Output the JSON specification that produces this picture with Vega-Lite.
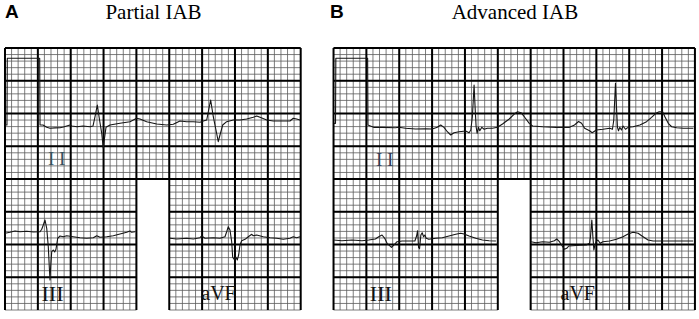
{
  "$schema": "https://vega.github.io/schema/vega-lite/v6.json",
  "width": 699,
  "height": 319,
  "padding": 0,
  "autosize": {"type": "fit", "contains": "padding"},
  "background": "white",
  "config": {"view": {"stroke": null}},
  "datasets": {
    "paperColumns": [
      {"x": 0}, {"x": 1}, {"x": 2}, {"x": 3}, {"x": 4}, {"x": 5}, {"x": 6}, {"x": 7}, {"x": 8}, {"x": 9},
      {"x": 10}, {"x": 11}, {"x": 12}, {"x": 13}, {"x": 14}, {"x": 15}, {"x": 16}, {"x": 17}, {"x": 18}, {"x": 19},
      {"x": 20}, {"x": 21}, {"x": 22}, {"x": 23}, {"x": 24}, {"x": 25}, {"x": 26}, {"x": 27}, {"x": 28}, {"x": 29},
      {"x": 30}, {"x": 31}, {"x": 32}, {"x": 33}, {"x": 34}, {"x": 35}, {"x": 36}, {"x": 37}, {"x": 38}, {"x": 39},
      {"x": 40}, {"x": 41}, {"x": 42}, {"x": 43}, {"x": 44}, {"x": 45},
      {"x": 50}, {"x": 51}, {"x": 52}, {"x": 53}, {"x": 54}, {"x": 55}, {"x": 56}, {"x": 57}, {"x": 58}, {"x": 59},
      {"x": 60}, {"x": 61}, {"x": 62}, {"x": 63}, {"x": 64}, {"x": 65}, {"x": 66}, {"x": 67}, {"x": 68}, {"x": 69},
      {"x": 70}, {"x": 71}, {"x": 72}, {"x": 73}, {"x": 74}, {"x": 75}, {"x": 76}, {"x": 77}, {"x": 78}, {"x": 79},
      {"x": 80}, {"x": 81}, {"x": 82}, {"x": 83}, {"x": 84}, {"x": 85}, {"x": 86}, {"x": 87}, {"x": 88}, {"x": 89},
      {"x": 90}, {"x": 91}, {"x": 92}, {"x": 93}, {"x": 94}, {"x": 95}, {"x": 96}, {"x": 97}, {"x": 98}, {"x": 99},
      {"x": 100}, {"x": 101}, {"x": 102}, {"x": 103}, {"x": 104}, {"x": 105}
    ],
    "paperRows": [
      {"y": 0}, {"y": 1}, {"y": 2}, {"y": 3}, {"y": 4}, {"y": 5}, {"y": 6}, {"y": 7}, {"y": 8}, {"y": 9},
      {"y": 10}, {"y": 11}, {"y": 12}, {"y": 13}, {"y": 14}, {"y": 15}, {"y": 16}, {"y": 17}, {"y": 18}, {"y": 19},
      {"y": 20}, {"y": 21}, {"y": 22}, {"y": 23}, {"y": 24}, {"y": 25}, {"y": 26}, {"y": 27}, {"y": 28}, {"y": 29},
      {"y": 30}, {"y": 31}, {"y": 32}, {"y": 33}, {"y": 34}, {"y": 35}, {"y": 36}, {"y": 37}, {"y": 38}, {"y": 39},
      {"y": 40}
    ],
    "gaps": [
      {"panel": "A", "x0": 20, "x1": 25},
      {"panel": "B", "x0": 75, "x1": 80}
    ],
    "ecg": [
      {"strip": "A-II", "x": 0.05, "y": 28.24}, {"strip": "A-II", "x": 0.30, "y": 28.24}, {"strip": "A-II", "x": 0.35, "y": 38.43},
      {"strip": "A-II", "x": 5.28, "y": 38.43}, {"strip": "A-II", "x": 5.33, "y": 28.24}, {"strip": "A-II", "x": 5.78, "y": 28.24},
      {"strip": "A-II", "x": 6.35, "y": 27.89}, {"strip": "A-II", "x": 6.85, "y": 27.74}, {"strip": "A-II", "x": 7.6, "y": 27.8},
      {"strip": "A-II", "x": 8.37, "y": 27.83}, {"strip": "A-II", "x": 8.9, "y": 27.95}, {"strip": "A-II", "x": 9.39, "y": 28.09},
      {"strip": "A-II", "x": 9.89, "y": 28.24}, {"strip": "A-II", "x": 10.20, "y": 28.09}, {"strip": "A-II", "x": 10.96, "y": 27.98},
      {"strip": "A-II", "x": 11.87, "y": 28.09}, {"strip": "A-II", "x": 12.94, "y": 27.98}, {"strip": "A-II", "x": 13.39, "y": 28.09},
      {"strip": "A-II", "x": 13.70, "y": 29.51}, {"strip": "A-II", "x": 14.05, "y": 31.30}, {"strip": "A-II", "x": 14.35, "y": 29.27},
      {"strip": "A-II", "x": 14.72, "y": 26.98}, {"strip": "A-II", "x": 14.96, "y": 24.69}, {"strip": "A-II", "x": 15.11, "y": 25.95},
      {"strip": "A-II", "x": 15.37, "y": 27.89}, {"strip": "A-II", "x": 15.98, "y": 28.24}, {"strip": "A-II", "x": 17.50, "y": 28.50},
      {"strip": "A-II", "x": 19.02, "y": 28.75}, {"strip": "A-II", "x": 20.04, "y": 29.27}, {"strip": "A-II", "x": 20.54, "y": 29.16},
      {"strip": "A-II", "x": 21.56, "y": 28.75}, {"strip": "A-II", "x": 23.09, "y": 28.40}, {"strip": "A-II", "x": 24.61, "y": 28.24},
      {"strip": "A-II", "x": 25.61, "y": 28.35}, {"strip": "A-II", "x": 26.63, "y": 28.85}, {"strip": "A-II", "x": 27.65, "y": 28.75},
      {"strip": "A-II", "x": 28.66, "y": 28.75}, {"strip": "A-II", "x": 29.68, "y": 28.66}, {"strip": "A-II", "x": 30.18, "y": 28.85},
      {"strip": "A-II", "x": 30.70, "y": 29.01}, {"strip": "A-II", "x": 30.94, "y": 30.27}, {"strip": "A-II", "x": 31.30, "y": 32.06},
      {"strip": "A-II", "x": 31.70, "y": 29.51}, {"strip": "A-II", "x": 32.11, "y": 27.48}, {"strip": "A-II", "x": 32.46, "y": 25.69},
      {"strip": "A-II", "x": 32.72, "y": 26.72}, {"strip": "A-II", "x": 33.13, "y": 28.24}, {"strip": "A-II", "x": 33.74, "y": 28.75},
      {"strip": "A-II", "x": 34.74, "y": 29.01}, {"strip": "A-II", "x": 35.76, "y": 29.01}, {"strip": "A-II", "x": 36.78, "y": 29.16},
      {"strip": "A-II", "x": 37.79, "y": 29.42}, {"strip": "A-II", "x": 38.30, "y": 29.62}, {"strip": "A-II", "x": 38.81, "y": 29.42},
      {"strip": "A-II", "x": 39.83, "y": 29.01}, {"strip": "A-II", "x": 40.83, "y": 28.85}, {"strip": "A-II", "x": 42.35, "y": 28.85},
      {"strip": "A-II", "x": 43.37, "y": 28.85}, {"strip": "A-II", "x": 43.87, "y": 29.27}, {"strip": "A-II", "x": 44.39, "y": 29.16},
      {"strip": "A-II", "x": 44.89, "y": 29.01},

      {"strip": "A-III", "x": 0.0, "y": 11.71}, {"strip": "A-III", "x": 0.76, "y": 11.86}, {"strip": "A-III", "x": 1.52, "y": 12.06},
      {"strip": "A-III", "x": 2.28, "y": 11.95}, {"strip": "A-III", "x": 3.30, "y": 12.02}, {"strip": "A-III", "x": 4.31, "y": 11.91},
      {"strip": "A-III", "x": 5.33, "y": 11.95}, {"strip": "A-III", "x": 5.59, "y": 12.32}, {"strip": "A-III", "x": 5.83, "y": 12.98},
      {"strip": "A-III", "x": 6.09, "y": 13.74}, {"strip": "A-III", "x": 6.35, "y": 12.47}, {"strip": "A-III", "x": 6.59, "y": 9.66},
      {"strip": "A-III", "x": 6.74, "y": 6.61}, {"strip": "A-III", "x": 6.85, "y": 4.58}, {"strip": "A-III", "x": 6.95, "y": 6.61},
      {"strip": "A-III", "x": 7.11, "y": 8.90}, {"strip": "A-III", "x": 7.35, "y": 9.16}, {"strip": "A-III", "x": 7.56, "y": 8.85},
      {"strip": "A-III", "x": 7.76, "y": 9.27}, {"strip": "A-III", "x": 8.02, "y": 10.95}, {"strip": "A-III", "x": 8.37, "y": 11.30},
      {"strip": "A-III", "x": 8.87, "y": 11.19}, {"strip": "A-III", "x": 9.39, "y": 11.34}, {"strip": "A-III", "x": 10.39, "y": 11.19},
      {"strip": "A-III", "x": 11.41, "y": 11.04}, {"strip": "A-III", "x": 12.43, "y": 10.95}, {"strip": "A-III", "x": 13.44, "y": 11.04},
      {"strip": "A-III", "x": 13.96, "y": 11.34}, {"strip": "A-III", "x": 14.46, "y": 11.10}, {"strip": "A-III", "x": 15.48, "y": 11.19},
      {"strip": "A-III", "x": 16.48, "y": 11.34}, {"strip": "A-III", "x": 17.50, "y": 11.60}, {"strip": "A-III", "x": 18.52, "y": 11.86},
      {"strip": "A-III", "x": 19.02, "y": 12.06}, {"strip": "A-III", "x": 19.28, "y": 11.86}, {"strip": "A-III", "x": 19.78, "y": 11.95},

      {"strip": "A-aVF", "x": 25.11, "y": 10.95}, {"strip": "A-aVF", "x": 26.13, "y": 10.84}, {"strip": "A-aVF", "x": 27.65, "y": 10.95},
      {"strip": "A-aVF", "x": 28.66, "y": 10.84}, {"strip": "A-aVF", "x": 29.68, "y": 11.04}, {"strip": "A-aVF", "x": 29.93, "y": 11.30},
      {"strip": "A-aVF", "x": 30.44, "y": 10.95}, {"strip": "A-aVF", "x": 31.70, "y": 11.04}, {"strip": "A-aVF", "x": 32.72, "y": 10.95},
      {"strip": "A-aVF", "x": 33.48, "y": 11.19}, {"strip": "A-aVF", "x": 33.74, "y": 11.95}, {"strip": "A-aVF", "x": 33.98, "y": 12.72},
      {"strip": "A-aVF", "x": 34.24, "y": 12.21}, {"strip": "A-aVF", "x": 34.50, "y": 10.43}, {"strip": "A-aVF", "x": 34.65, "y": 8.05},
      {"strip": "A-aVF", "x": 34.89, "y": 7.74}, {"strip": "A-aVF", "x": 35.15, "y": 8.05}, {"strip": "A-aVF", "x": 35.35, "y": 7.63},
      {"strip": "A-aVF", "x": 35.56, "y": 8.40}, {"strip": "A-aVF", "x": 35.76, "y": 9.92}, {"strip": "A-aVF", "x": 36.02, "y": 10.58},
      {"strip": "A-aVF", "x": 36.53, "y": 10.79}, {"strip": "A-aVF", "x": 37.03, "y": 11.19}, {"strip": "A-aVF", "x": 37.55, "y": 11.56},
      {"strip": "A-aVF", "x": 37.79, "y": 11.34}, {"strip": "A-aVF", "x": 38.30, "y": 11.45}, {"strip": "A-aVF", "x": 39.31, "y": 11.19},
      {"strip": "A-aVF", "x": 40.33, "y": 11.04}, {"strip": "A-aVF", "x": 41.35, "y": 10.95}, {"strip": "A-aVF", "x": 42.35, "y": 10.79},
      {"strip": "A-aVF", "x": 43.37, "y": 10.95}, {"strip": "A-aVF", "x": 43.87, "y": 11.19}, {"strip": "A-aVF", "x": 44.39, "y": 11.04},
      {"strip": "A-aVF", "x": 44.89, "y": 11.19},

      {"strip": "B-II", "x": 50.08, "y": 28.50}, {"strip": "B-II", "x": 50.30, "y": 28.50}, {"strip": "B-II", "x": 50.35, "y": 38.43},
      {"strip": "B-II", "x": 55.19, "y": 38.43}, {"strip": "B-II", "x": 55.24, "y": 28.24}, {"strip": "B-II", "x": 55.61, "y": 28.09},
      {"strip": "B-II", "x": 56.11, "y": 27.89}, {"strip": "B-II", "x": 57.38, "y": 27.89}, {"strip": "B-II", "x": 59.43, "y": 27.83},
      {"strip": "B-II", "x": 59.93, "y": 27.89}, {"strip": "B-II", "x": 60.96, "y": 27.74}, {"strip": "B-II", "x": 62.49, "y": 27.63},
      {"strip": "B-II", "x": 64.02, "y": 27.68}, {"strip": "B-II", "x": 65.02, "y": 27.63}, {"strip": "B-II", "x": 65.79, "y": 27.89},
      {"strip": "B-II", "x": 66.31, "y": 28.24}, {"strip": "B-II", "x": 66.81, "y": 27.89}, {"strip": "B-II", "x": 67.32, "y": 27.22},
      {"strip": "B-II", "x": 67.83, "y": 26.72}, {"strip": "B-II", "x": 68.34, "y": 27.07}, {"strip": "B-II", "x": 69.10, "y": 27.22},
      {"strip": "B-II", "x": 70.12, "y": 27.33}, {"strip": "B-II", "x": 70.63, "y": 27.07}, {"strip": "B-II", "x": 70.89, "y": 27.48},
      {"strip": "B-II", "x": 71.13, "y": 29.51}, {"strip": "B-II", "x": 71.39, "y": 34.35}, {"strip": "B-II", "x": 71.54, "y": 31.04},
      {"strip": "B-II", "x": 71.70, "y": 27.98}, {"strip": "B-II", "x": 71.85, "y": 26.98}, {"strip": "B-II", "x": 72.05, "y": 27.89},
      {"strip": "B-II", "x": 72.26, "y": 27.37}, {"strip": "B-II", "x": 72.57, "y": 27.89}, {"strip": "B-II", "x": 72.92, "y": 27.59},
      {"strip": "B-II", "x": 73.42, "y": 27.74}, {"strip": "B-II", "x": 74.19, "y": 27.74}, {"strip": "B-II", "x": 74.95, "y": 27.89},
      {"strip": "B-II", "x": 75.72, "y": 28.40}, {"strip": "B-II", "x": 76.74, "y": 29.16}, {"strip": "B-II", "x": 77.50, "y": 29.92},
      {"strip": "B-II", "x": 78.01, "y": 30.27}, {"strip": "B-II", "x": 78.53, "y": 30.12}, {"strip": "B-II", "x": 79.03, "y": 29.51},
      {"strip": "B-II", "x": 79.79, "y": 28.50}, {"strip": "B-II", "x": 80.30, "y": 28.09}, {"strip": "B-II", "x": 81.83, "y": 27.98},
      {"strip": "B-II", "x": 83.88, "y": 27.89}, {"strip": "B-II", "x": 85.91, "y": 27.89}, {"strip": "B-II", "x": 86.67, "y": 28.24},
      {"strip": "B-II", "x": 87.29, "y": 28.78}, {"strip": "B-II", "x": 87.75, "y": 28.50}, {"strip": "B-II", "x": 88.21, "y": 27.74},
      {"strip": "B-II", "x": 88.97, "y": 27.37}, {"strip": "B-II", "x": 89.36, "y": 27.07}, {"strip": "B-II", "x": 90.00, "y": 27.48},
      {"strip": "B-II", "x": 91.01, "y": 27.59}, {"strip": "B-II", "x": 92.04, "y": 27.74}, {"strip": "B-II", "x": 92.45, "y": 27.59},
      {"strip": "B-II", "x": 92.65, "y": 29.01}, {"strip": "B-II", "x": 92.91, "y": 34.61}, {"strip": "B-II", "x": 93.06, "y": 31.04},
      {"strip": "B-II", "x": 93.21, "y": 27.89}, {"strip": "B-II", "x": 93.37, "y": 27.37}, {"strip": "B-II", "x": 93.56, "y": 27.89},
      {"strip": "B-II", "x": 93.82, "y": 27.48}, {"strip": "B-II", "x": 94.06, "y": 28.09}, {"strip": "B-II", "x": 94.43, "y": 27.59},
      {"strip": "B-II", "x": 94.83, "y": 27.89}, {"strip": "B-II", "x": 95.59, "y": 27.98}, {"strip": "B-II", "x": 96.62, "y": 28.24},
      {"strip": "B-II", "x": 97.64, "y": 28.75}, {"strip": "B-II", "x": 98.40, "y": 29.42}, {"strip": "B-II", "x": 99.06, "y": 30.03},
      {"strip": "B-II", "x": 99.56, "y": 30.27}, {"strip": "B-II", "x": 100.08, "y": 30.27}, {"strip": "B-II", "x": 100.43, "y": 29.51},
      {"strip": "B-II", "x": 100.94, "y": 28.50}, {"strip": "B-II", "x": 101.46, "y": 27.98}, {"strip": "B-II", "x": 102.22, "y": 27.83},
      {"strip": "B-II", "x": 103.23, "y": 27.74}, {"strip": "B-II", "x": 104.76, "y": 27.74},

      {"strip": "B-III", "x": 50.00, "y": 10.69}, {"strip": "B-III", "x": 51.27, "y": 10.58}, {"strip": "B-III", "x": 52.80, "y": 10.69},
      {"strip": "B-III", "x": 54.32, "y": 10.58}, {"strip": "B-III", "x": 55.35, "y": 10.69}, {"strip": "B-III", "x": 56.37, "y": 10.84},
      {"strip": "B-III", "x": 56.88, "y": 11.19}, {"strip": "B-III", "x": 57.38, "y": 11.45}, {"strip": "B-III", "x": 57.79, "y": 10.95},
      {"strip": "B-III", "x": 58.14, "y": 10.18}, {"strip": "B-III", "x": 58.82, "y": 9.57}, {"strip": "B-III", "x": 59.17, "y": 9.92},
      {"strip": "B-III", "x": 59.67, "y": 10.43}, {"strip": "B-III", "x": 60.44, "y": 10.53}, {"strip": "B-III", "x": 61.96, "y": 10.53},
      {"strip": "B-III", "x": 62.38, "y": 10.53}, {"strip": "B-III", "x": 62.64, "y": 11.30}, {"strip": "B-III", "x": 62.79, "y": 12.11},
      {"strip": "B-III", "x": 62.94, "y": 9.57}, {"strip": "B-III", "x": 63.09, "y": 9.36}, {"strip": "B-III", "x": 63.29, "y": 11.45},
      {"strip": "B-III", "x": 63.49, "y": 11.80}, {"strip": "B-III", "x": 63.71, "y": 11.19}, {"strip": "B-III", "x": 63.90, "y": 11.45},
      {"strip": "B-III", "x": 64.10, "y": 10.95}, {"strip": "B-III", "x": 64.51, "y": 10.79}, {"strip": "B-III", "x": 65.54, "y": 10.95},
      {"strip": "B-III", "x": 66.55, "y": 11.04}, {"strip": "B-III", "x": 67.57, "y": 11.30}, {"strip": "B-III", "x": 68.59, "y": 11.56},
      {"strip": "B-III", "x": 69.36, "y": 11.71}, {"strip": "B-III", "x": 69.86, "y": 11.60}, {"strip": "B-III", "x": 70.63, "y": 11.30},
      {"strip": "B-III", "x": 71.65, "y": 10.95}, {"strip": "B-III", "x": 72.66, "y": 10.69}, {"strip": "B-III", "x": 73.68, "y": 10.58},
      {"strip": "B-III", "x": 74.71, "y": 10.53},

      {"strip": "B-aVF", "x": 80.05, "y": 10.43}, {"strip": "B-aVF", "x": 80.82, "y": 10.27}, {"strip": "B-aVF", "x": 81.83, "y": 10.43},
      {"strip": "B-aVF", "x": 82.85, "y": 10.34}, {"strip": "B-aVF", "x": 83.61, "y": 10.58}, {"strip": "B-aVF", "x": 83.97, "y": 10.84},
      {"strip": "B-aVF", "x": 84.38, "y": 10.43}, {"strip": "B-aVF", "x": 84.88, "y": 9.66}, {"strip": "B-aVF", "x": 85.14, "y": 9.27},
      {"strip": "B-aVF", "x": 85.49, "y": 9.42}, {"strip": "B-aVF", "x": 85.80, "y": 9.77}, {"strip": "B-aVF", "x": 86.41, "y": 9.82},
      {"strip": "B-aVF", "x": 87.43, "y": 9.88}, {"strip": "B-aVF", "x": 88.46, "y": 9.92}, {"strip": "B-aVF", "x": 88.96, "y": 10.18},
      {"strip": "B-aVF", "x": 89.11, "y": 11.19}, {"strip": "B-aVF", "x": 89.31, "y": 13.74}, {"strip": "B-aVF", "x": 89.47, "y": 11.19},
      {"strip": "B-aVF", "x": 89.62, "y": 9.16}, {"strip": "B-aVF", "x": 89.78, "y": 9.92}, {"strip": "B-aVF", "x": 89.98, "y": 10.43},
      {"strip": "B-aVF", "x": 90.23, "y": 10.69}, {"strip": "B-aVF", "x": 90.60, "y": 10.18}, {"strip": "B-aVF", "x": 90.99, "y": 10.43},
      {"strip": "B-aVF", "x": 92.02, "y": 10.53}, {"strip": "B-aVF", "x": 93.04, "y": 10.79}, {"strip": "B-aVF", "x": 94.05, "y": 11.19},
      {"strip": "B-aVF", "x": 94.82, "y": 11.60}, {"strip": "B-aVF", "x": 95.58, "y": 11.86}, {"strip": "B-aVF", "x": 96.35, "y": 11.71},
      {"strip": "B-aVF", "x": 97.11, "y": 11.19}, {"strip": "B-aVF", "x": 97.87, "y": 10.69}, {"strip": "B-aVF", "x": 98.64, "y": 10.53},
      {"strip": "B-aVF", "x": 100.17, "y": 10.53}, {"strip": "B-aVF", "x": 102.21, "y": 10.53}, {"strip": "B-aVF", "x": 104.74, "y": 10.53}
    ]
  },
  "layer": [
    {
      "description": "minor grid, vertical (1 mm = 0.04 s)",
      "data": {"name": "paperColumns"},
      "mark": {"type": "rule", "stroke": "#5c5c5c", "strokeWidth": 0.8},
      "encoding": {
        "x": {"field": "x", "type": "quantitative", "scale": {"domain": [-0.76, 105.62], "nice": false, "zero": false}, "axis": null},
        "y": {"datum": 0, "type": "quantitative", "scale": {"domain": [-1.374, 47.33], "nice": false, "zero": false}, "axis": null},
        "y2": {"datum": 40}
      }
    },
    {
      "description": "minor grid, horizontal, panel A (1 mm = 0.1 mV)",
      "data": {"name": "paperRows"},
      "mark": {"type": "rule", "stroke": "#5c5c5c", "strokeWidth": 0.8},
      "encoding": {
        "x": {"datum": 0, "type": "quantitative", "scale": {"domain": [-0.76, 105.62], "nice": false, "zero": false}, "axis": null},
        "x2": {"datum": 45},
        "y": {"field": "y", "type": "quantitative", "scale": {"domain": [-1.374, 47.33], "nice": false, "zero": false}, "axis": null}
      }
    },
    {
      "description": "minor grid, horizontal, panel B",
      "data": {"name": "paperRows"},
      "mark": {"type": "rule", "stroke": "#5c5c5c", "strokeWidth": 0.8},
      "encoding": {
        "x": {"datum": 50, "type": "quantitative", "scale": {"domain": [-0.76, 105.62], "nice": false, "zero": false}, "axis": null},
        "x2": {"datum": 105},
        "y": {"field": "y", "type": "quantitative", "scale": {"domain": [-1.374, 47.33], "nice": false, "zero": false}, "axis": null}
      }
    },
    {
      "description": "major grid, horizontal, panel A (every 5 mm)",
      "data": {"name": "paperRows"},
      "transform": [{"filter": "datum.y % 5 == 0 && datum.y > 0"}],
      "mark": {"type": "rule", "stroke": "#000000", "strokeWidth": 2},
      "encoding": {
        "x": {"datum": 0, "type": "quantitative", "scale": {"domain": [-0.76, 105.62], "nice": false, "zero": false}, "axis": null},
        "x2": {"datum": 45},
        "y": {"field": "y", "type": "quantitative", "scale": {"domain": [-1.374, 47.33], "nice": false, "zero": false}, "axis": null}
      }
    },
    {
      "description": "major grid, horizontal, panel B",
      "data": {"name": "paperRows"},
      "transform": [{"filter": "datum.y % 5 == 0 && datum.y > 0"}],
      "mark": {"type": "rule", "stroke": "#000000", "strokeWidth": 2},
      "encoding": {
        "x": {"datum": 50, "type": "quantitative", "scale": {"domain": [-0.76, 105.62], "nice": false, "zero": false}, "axis": null},
        "x2": {"datum": 105},
        "y": {"field": "y", "type": "quantitative", "scale": {"domain": [-1.374, 47.33], "nice": false, "zero": false}, "axis": null}
      }
    },
    {
      "description": "blank paper between the III and aVF strips",
      "data": {"name": "gaps"},
      "mark": {"type": "rect", "fill": "white", "stroke": null},
      "encoding": {
        "x": {"field": "x0", "type": "quantitative", "scale": {"domain": [-0.76, 105.62], "nice": false, "zero": false}, "axis": null},
        "x2": {"field": "x1"},
        "y": {"datum": -1.374, "type": "quantitative", "scale": {"domain": [-1.374, 47.33], "nice": false, "zero": false}, "axis": null},
        "y2": {"datum": 19.85}
      }
    },
    {
      "description": "major grid, vertical (every 5 mm = 0.2 s)",
      "data": {"name": "paperColumns"},
      "transform": [{"filter": "datum.x % 5 == 0"}],
      "mark": {"type": "rule", "stroke": "#000000", "strokeWidth": 2},
      "encoding": {
        "x": {"field": "x", "type": "quantitative", "scale": {"domain": [-0.76, 105.62], "nice": false, "zero": false}, "axis": null},
        "y": {"datum": 0, "type": "quantitative", "scale": {"domain": [-1.374, 47.33], "nice": false, "zero": false}, "axis": null},
        "y2": {"datum": 40}
      }
    },
    {
      "description": "ECG tracings: leads II, III and aVF for each panel",
      "data": {"name": "ecg"},
      "mark": {"type": "line", "stroke": "#151515", "strokeWidth": 1.1, "strokeJoin": "round"},
      "encoding": {
        "x": {"field": "x", "type": "quantitative", "scale": {"domain": [-0.76, 105.62], "nice": false, "zero": false}, "axis": null},
        "y": {"field": "y", "type": "quantitative", "scale": {"domain": [-1.374, 47.33], "nice": false, "zero": false}, "axis": null},
        "detail": {"field": "strip", "type": "nominal"}
      }
    },
    {
      "data": {"values": [{"label": "A"}]},
      "mark": {"type": "text", "font": "Liberation Sans", "fontWeight": "bold", "fontSize": 19, "align": "left", "baseline": "alphabetic", "fill": "#000000"},
      "encoding": {
        "x": {"datum": 0, "type": "quantitative", "scale": {"domain": [-0.76, 105.62], "nice": false, "zero": false}, "axis": null},
        "y": {"datum": 44.6, "type": "quantitative", "scale": {"domain": [-1.374, 47.33], "nice": false, "zero": false}, "axis": null},
        "text": {"field": "label"}
      }
    },
    {
      "data": {"values": [{"label": "B"}]},
      "mark": {"type": "text", "font": "Liberation Sans", "fontWeight": "bold", "fontSize": 19, "align": "left", "baseline": "alphabetic", "fill": "#000000"},
      "encoding": {
        "x": {"datum": 49.46, "type": "quantitative", "scale": {"domain": [-0.76, 105.62], "nice": false, "zero": false}, "axis": null},
        "y": {"datum": 44.65, "type": "quantitative", "scale": {"domain": [-1.374, 47.33], "nice": false, "zero": false}, "axis": null},
        "text": {"field": "label"}
      }
    },
    {
      "data": {"values": [{"label": "Partial IAB"}]},
      "mark": {"type": "text", "font": "Liberation Serif", "fontSize": 21, "align": "center", "baseline": "alphabetic", "fill": "#000000"},
      "encoding": {
        "x": {"datum": 22.6, "type": "quantitative", "scale": {"domain": [-0.76, 105.62], "nice": false, "zero": false}, "axis": null},
        "y": {"datum": 44.46, "type": "quantitative", "scale": {"domain": [-1.374, 47.33], "nice": false, "zero": false}, "axis": null},
        "text": {"field": "label"}
      }
    },
    {
      "data": {"values": [{"label": "Advanced IAB"}]},
      "mark": {"type": "text", "font": "Liberation Serif", "fontSize": 21, "align": "center", "baseline": "alphabetic", "fill": "#000000"},
      "encoding": {
        "x": {"datum": 77.61, "type": "quantitative", "scale": {"domain": [-0.76, 105.62], "nice": false, "zero": false}, "axis": null},
        "y": {"datum": 44.46, "type": "quantitative", "scale": {"domain": [-1.374, 47.33], "nice": false, "zero": false}, "axis": null},
        "text": {"field": "label"}
      }
    },
    {
      "data": {"values": [{"label": "I I"}]},
      "mark": {"type": "text", "font": "Liberation Serif", "fontSize": 19, "align": "center", "baseline": "alphabetic", "fill": "#34505e"},
      "encoding": {
        "x": {"datum": 7.87, "type": "quantitative", "scale": {"domain": [-0.76, 105.62], "nice": false, "zero": false}, "axis": null},
        "y": {"datum": 22.14, "type": "quantitative", "scale": {"domain": [-1.374, 47.33], "nice": false, "zero": false}, "axis": null},
        "text": {"field": "label"}
      }
    },
    {
      "data": {"values": [{"label": "I I"}]},
      "mark": {"type": "text", "font": "Liberation Serif", "fontSize": 19, "align": "center", "baseline": "alphabetic", "fill": "#2e3a58"},
      "encoding": {
        "x": {"datum": 57.79, "type": "quantitative", "scale": {"domain": [-0.76, 105.62], "nice": false, "zero": false}, "axis": null},
        "y": {"datum": 21.98, "type": "quantitative", "scale": {"domain": [-1.374, 47.33], "nice": false, "zero": false}, "axis": null},
        "text": {"field": "label"}
      }
    },
    {
      "data": {"values": [{"label": "III"}]},
      "mark": {"type": "text", "font": "Liberation Serif", "fontSize": 22, "align": "center", "baseline": "alphabetic", "fill": "#111111"},
      "encoding": {
        "x": {"datum": 7.23, "type": "quantitative", "scale": {"domain": [-0.76, 105.62], "nice": false, "zero": false}, "axis": null},
        "y": {"datum": 1.37, "type": "quantitative", "scale": {"domain": [-1.374, 47.33], "nice": false, "zero": false}, "axis": null},
        "text": {"field": "label"}
      }
    },
    {
      "data": {"values": [{"label": "aVF"}]},
      "mark": {"type": "text", "font": "Liberation Serif", "fontSize": 20, "align": "center", "baseline": "alphabetic", "fill": "#111111"},
      "encoding": {
        "x": {"datum": 32.49, "type": "quantitative", "scale": {"domain": [-0.76, 105.62], "nice": false, "zero": false}, "axis": null},
        "y": {"datum": 1.53, "type": "quantitative", "scale": {"domain": [-1.374, 47.33], "nice": false, "zero": false}, "axis": null},
        "text": {"field": "label"}
      }
    },
    {
      "data": {"values": [{"label": "III"}]},
      "mark": {"type": "text", "font": "Liberation Serif", "fontSize": 22, "align": "center", "baseline": "alphabetic", "fill": "#111111"},
      "encoding": {
        "x": {"datum": 57.2, "type": "quantitative", "scale": {"domain": [-0.76, 105.62], "nice": false, "zero": false}, "axis": null},
        "y": {"datum": 1.42, "type": "quantitative", "scale": {"domain": [-1.374, 47.33], "nice": false, "zero": false}, "axis": null},
        "text": {"field": "label"}
      }
    },
    {
      "data": {"values": [{"label": "aVF"}]},
      "mark": {"type": "text", "font": "Liberation Serif", "fontSize": 20, "align": "center", "baseline": "alphabetic", "fill": "#111111"},
      "encoding": {
        "x": {"datum": 87.17, "type": "quantitative", "scale": {"domain": [-0.76, 105.62], "nice": false, "zero": false}, "axis": null},
        "y": {"datum": 1.53, "type": "quantitative", "scale": {"domain": [-1.374, 47.33], "nice": false, "zero": false}, "axis": null},
        "text": {"field": "label"}
      }
    }
  ]
}
